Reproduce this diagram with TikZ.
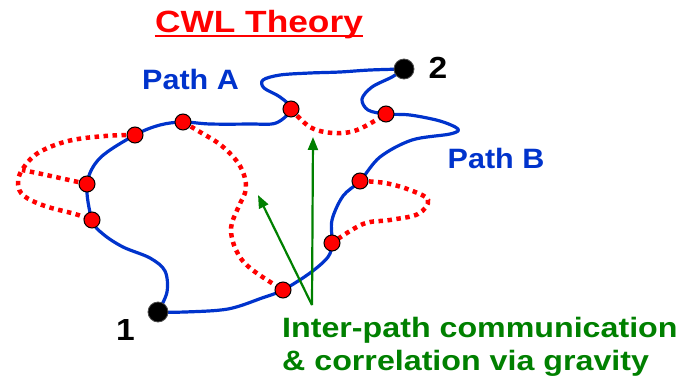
\documentclass[tikz,border=0pt]{standalone}
\usepackage{fontspec}
\usepackage{graphicx}
\setmainfont{Liberation Sans}
\usetikzlibrary{arrows.meta}
\definecolor{pblue}{RGB}{0,51,204}
\definecolor{pred}{RGB}{255,0,0}
\definecolor{pgreen}{RGB}{0,128,0}
\tikzset{
  pathline/.style={draw=pblue, line width=3.2pt, line cap=round, line join=round},
  dotline/.style={draw=pred, line width=4.5pt, dash pattern=on 4.5pt off 4.5pt},
  reddot/.style={circle, fill=pred, draw=black, line width=1pt, minimum size=16pt, inner sep=0pt},
  enddot/.style={circle, fill=black, draw=black!70, line width=0.8pt, minimum size=20pt, inner sep=0pt},
  garrow/.style={draw=pgreen, line width=2.2pt, -{Triangle[length=13pt,width=10pt]}},
  lbl/.style={inner sep=0pt, anchor=base, font=\bfseries},
}
\begin{document}
\begin{tikzpicture}[x=1pt,y=-1pt]
\useasboundingbox (0,0) rectangle (682,375);
% points
\coordinate (p1) at (158,312);
\coordinate (p2) at (404,69);
\coordinate (r1) at (135,135);
\coordinate (r2) at (183,122);
\coordinate (r3) at (291,109);
\coordinate (r4) at (386,114);
\coordinate (r5) at (87,184);
\coordinate (r6) at (92,220);
\coordinate (r7) at (360,181);
\coordinate (r8) at (332,243);
\coordinate (r9) at (283,290);
\coordinate (g0) at (312,305);
\coordinate (gt1) at (258,195);
\coordinate (gt2) at (313,137);
\coordinate (j) at (22,170);
% dotted correlations
\draw[dotline] plot[smooth, tension=0.6] coordinates {(r1) (105,136) (68,141) (38,153) (22,170) (18,184) (24,196) (45,206) (75,214) (r6)};
\draw[dotline] plot[smooth, tension=0.6] coordinates {(r5) (60,178) (37,173) (j)};
\draw[dotline] plot[smooth, tension=0.6] coordinates {(r2) (200,132) (222,146) (240,166) (246,188) (238,208) (231,228) (236,250) (250,268) (r9)};
\draw[dotline] plot[smooth, tension=0.6] coordinates {(r3) (310,127) (333,133) (357,130) (r4)};
\draw[dotline] plot[smooth, tension=0.6] coordinates {(r7) (385,183) (410,190) (428,200) (418,214) (390,220) (363,224) (r8)};
% Path A
\draw[pathline] plot[smooth, tension=0.55] coordinates {(p1) (167,292) (165,271) (150,258) (123,247) (103,234) (r6) (r5) (100,158) (r1) (160,125) (r2) (210,124) (250,124) (276,123) (r3) (280,97) (264,88) (263,80) (280,75) (310,73) (340,72) (370,70) (p2)};
% Path B
\draw[pathline] plot[smooth, tension=0.55] coordinates {(p1) (185,312) (228,309) (262,298) (r9) (310,273) (328,257) (r8) (332,220) (343,196) (r7) (380,157) (412,140) (450,134) (458,129) (440,121) (410,115) (r4) (368,110) (362,99) (372,87) (392,77) (p2)};
% green arrows
\draw[garrow] (g0) -- (gt1);
\draw[garrow] (g0) -- (gt2);
% dots
\foreach \r in {r1,r2,r3,r4,r5,r6,r7,r8,r9} \node[reddot] (n\r) at (\r) {};
\node[enddot] (n1) at (p1) {};
\node[enddot] (n2) at (p2) {};
% labels
\node[lbl, text=pred, font=\bfseries\fontsize{30.7}{36}\selectfont] (title) at (259,32) {\scalebox{1.15}[1]{CWL Theory}};
\draw[pred, line width=2pt] ([yshift=-3.5pt]title.base west) -- ([yshift=-3.5pt]title.base east);
\node[lbl, text=pblue, font=\bfseries\fontsize{28}{32}\selectfont] (pa) at (190.5,89) {\scalebox{1.09}[1]{Path A}};
\node[lbl, text=pblue, font=\bfseries\fontsize{28}{32}\selectfont] (pb) at (496,168) {\scalebox{1.09}[1]{Path B}};
\node[lbl, font=\bfseries\fontsize{30.5}{34}\selectfont] (l1) at (125.5,340) {\scalebox{1.1}[1]{1}};
\node[lbl, font=\bfseries\fontsize{30.5}{34}\selectfont] (l2) at (438,78) {\scalebox{1.1}[1]{2}};
\node[lbl, anchor=base west, text=pgreen, font=\bfseries\fontsize{28}{32}\selectfont] (t1) at (282,337) {\scalebox{1.15}[1]{Inter-path communication}};
\node[lbl, anchor=base west, text=pgreen, font=\bfseries\fontsize{28}{32}\selectfont] (t2) at (282,370) {\scalebox{1.15}[1]{\& correlation via gravity}};
\end{tikzpicture}
\end{document}
